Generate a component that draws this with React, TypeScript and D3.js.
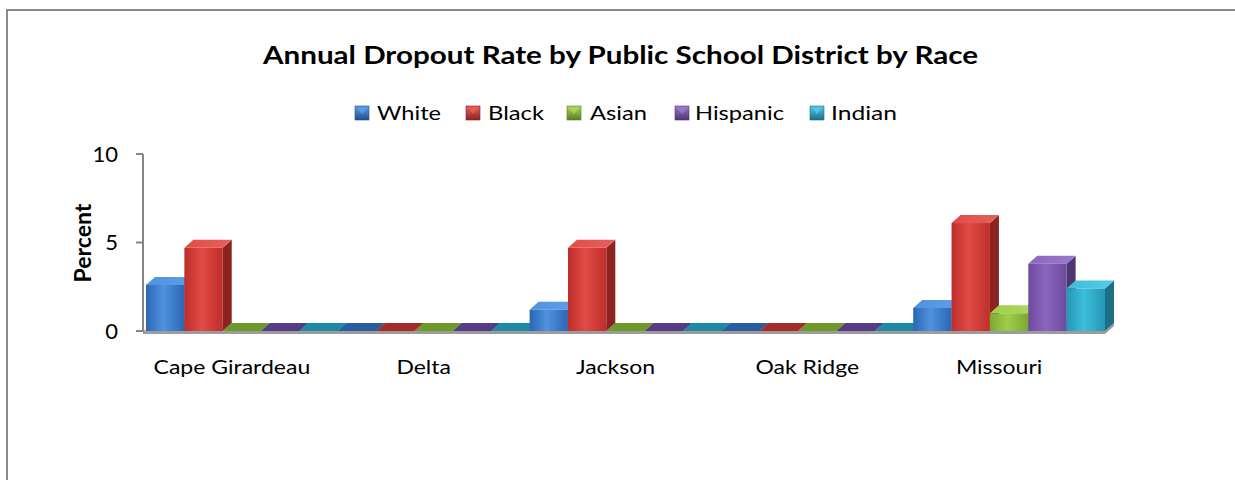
import React from "react";
import * as d3 from "d3";

const categories = ["Cape Girardeau", "Delta", "Jackson", "Oak Ridge", "Missouri"];
const seriesNames = ["White", "Black", "Asian", "Hispanic", "Indian"];
const white = [2.6, 0, 1.2, 0, 1.3];
const black = [4.7, 0, 4.7, 0, 6.1];
const asian = [0, 0, 0, 0, 1.0];
const hispanic = [0, 0, 0, 0, 3.8];
const indian = [0, 0, 0, 0, 2.4];
const yTicks = [0, 5, 10];

const seriesValues = [white, black, asian, hispanic, indian];

const palette = [
  { mid: "#4F92DE", edge: "#2C66B4", side: "#1F4E8E", top: "#5E9FE8", flat: "#2A5C9E" },
  { mid: "#E24B46", edge: "#BD2E2A", side: "#8C2320", top: "#E4625D", flat: "#A52C29" },
  { mid: "#A0CE4A", edge: "#7BA830", side: "#5A7E21", top: "#AFD862", flat: "#6E9A2A" },
  { mid: "#8D66BF", edge: "#6B4A9B", side: "#4E3574", top: "#9C7ACB", flat: "#553D86" },
  { mid: "#3EBEDB", edge: "#2597B4", side: "#1B7088", top: "#55CBE4", flat: "#1E8AA3" },
];

const font = "Lato, 'Open Sans', sans-serif";

export default function App() {
  const W = 1235;
  const H = 480;
  const axisX = 143;
  const y = d3.scaleLinear().domain([0, 10]).range([331, 154]);
  const x = d3.scaleBand<string>().domain(categories).range([146, 1105]).padding(0);
  const xs = d3.scaleBand<string>().domain(seriesNames).range([0, x.bandwidth()]).padding(0);
  const dx = 9;
  const dy = -8;
  const y0 = y(0);
  const bw = xs.bandwidth();

  const bars: React.ReactNode[] = [];
  categories.forEach((c, ci) => {
    seriesNames.forEach((s, si) => {
      const v = seriesValues[si][ci];
      const x0 = (x(c) as number) + (xs(s) as number);
      const x1 = x0 + bw;
      const yt = y(v);
      const p = palette[si];
      const key = `${ci}-${si}`;
      if (v <= 0) {
        bars.push(
          <polygon
            key={key}
            points={`${x0},${y0} ${x1},${y0} ${x1 + dx},${y0 + dy} ${x0 + dx},${y0 + dy}`}
            fill={p.flat}
          />
        );
      } else {
        bars.push(
          <g key={key}>
            <polygon
              points={`${x1},${y0} ${x1 + dx},${y0 + dy} ${x1 + dx},${yt + dy} ${x1},${yt}`}
              fill={p.side}
            />
            <polygon
              points={`${x0},${yt} ${x1},${yt} ${x1 + dx},${yt + dy} ${x0 + dx},${yt + dy}`}
              fill={`url(#top${si})`}
            />
            <rect x={x0} y={yt} width={bw} height={y0 - yt} fill={`url(#front${si})`} />
          </g>
        );
      }
    });
  });

  const floorRight = x.range()[1];

  const legendMarkerX = [355, 466, 567, 675, 810];
  const legendTextX = [377, 488, 590, 695, 831];
  const legendTextW = [64, 56, 57, 89, 66];

  return (
    <svg
      width={W}
      height={H}
      style={{ position: "absolute", left: 0, top: 0, background: "#fff" }}
      fontFamily={font}
    >
      <defs>
        {palette.map((p, i) => (
          <React.Fragment key={i}>
            <linearGradient id={`front${i}`} x1="0" x2="1" y1="0" y2="0">
              <stop offset="0" stopColor={p.edge} />
              <stop offset="0.45" stopColor={p.mid} />
              <stop offset="1" stopColor={p.edge} />
            </linearGradient>
            <linearGradient id={`top${i}`} x1="0" x2="1" y1="0" y2="0">
              <stop offset="0" stopColor={p.mid} />
              <stop offset="1" stopColor={p.top} />
            </linearGradient>
            <linearGradient id={`leg${i}`} x1="0" x2="0" y1="0" y2="1">
              <stop offset="0" stopColor={p.top} />
              <stop offset="1" stopColor={p.side} />
            </linearGradient>
          </React.Fragment>
        ))}
      </defs>
      <rect x={0} y={0} width={W} height={H} fill="#fff" />
      <rect x={7} y={10} width={W + 20} height={H + 20} fill="none" stroke="#8a8a8a" strokeWidth={2} />

      <text
        x={263}
        y={64}
        fontSize={25}
        fontWeight="bold"
        fill="#000"
        textLength={715}
        lengthAdjust="spacingAndGlyphs"
      >
        Annual Dropout Rate by Public School District by Race
      </text>

      {seriesNames.map((s, i) => (
        <g key={s}>
          <rect
            x={legendMarkerX[i]}
            y={106}
            width={14}
            height={14}
            fill={`url(#leg${i})`}
            stroke={palette[i].side}
            strokeWidth={0.6}
          />
          <polygon
            points={`${legendMarkerX[i] + 2},${108} ${legendMarkerX[i] + 12},${108} ${legendMarkerX[i] + 7},${114}`}
            fill={palette[i].top}
            opacity={0.8}
          />
          <text
            x={legendTextX[i]}
            y={120}
            fontSize={20}
            fill="#000"
            textLength={legendTextW[i]}
            lengthAdjust="spacingAndGlyphs"
          >
            {s}
          </text>
        </g>
      ))}

      {/* floor */}
      <polygon
        points={`${axisX},${y0} ${floorRight},${y0} ${floorRight + dx},${y0 + dy} ${axisX + dx},${y0 + dy}`}
        fill="#c8c8c8"
      />
      <polygon
        points={`${axisX},${y0} ${floorRight},${y0} ${floorRight + dx},${y0 + dy} ${floorRight + dx},${y0 + dy + 3} ${floorRight},${y0 + 3} ${axisX},${y0 + 3}`}
        fill="#9c9c9c"
      />

      {bars}

      {/* y axis */}
      <line x1={axisX} x2={axisX} y1={y(10)} y2={y0 + 1} stroke="#868686" strokeWidth={2} />
      {yTicks.map((t) => (
        <g key={t}>
          <line x1={axisX - 7} x2={axisX} y1={y(t)} y2={y(t)} stroke="#868686" strokeWidth={2} />
          <text x={118} y={y(t)} dy="0.36em" textAnchor="end" fontSize={22} fill="#000">
            {t}
          </text>
        </g>
      ))}
      <text
        transform={`translate(91,243) rotate(-90)`}
        textAnchor="middle"
        fontSize={23}
        fontWeight="bold"
        fill="#000"
      >
        Percent
      </text>

      {categories.map((c) => (
        <text
          key={c}
          x={(x(c) as number) + x.bandwidth() / 2 - 10}
          y={374}
          textAnchor="middle"
          fontSize={20}
          fill="#000"
          transform={`translate(${((x(c) as number) + x.bandwidth() / 2 - 10) * -0.15},0) scale(1.15,1)`}
        >
          {c}
        </text>
      ))}
    </svg>
  );
}
